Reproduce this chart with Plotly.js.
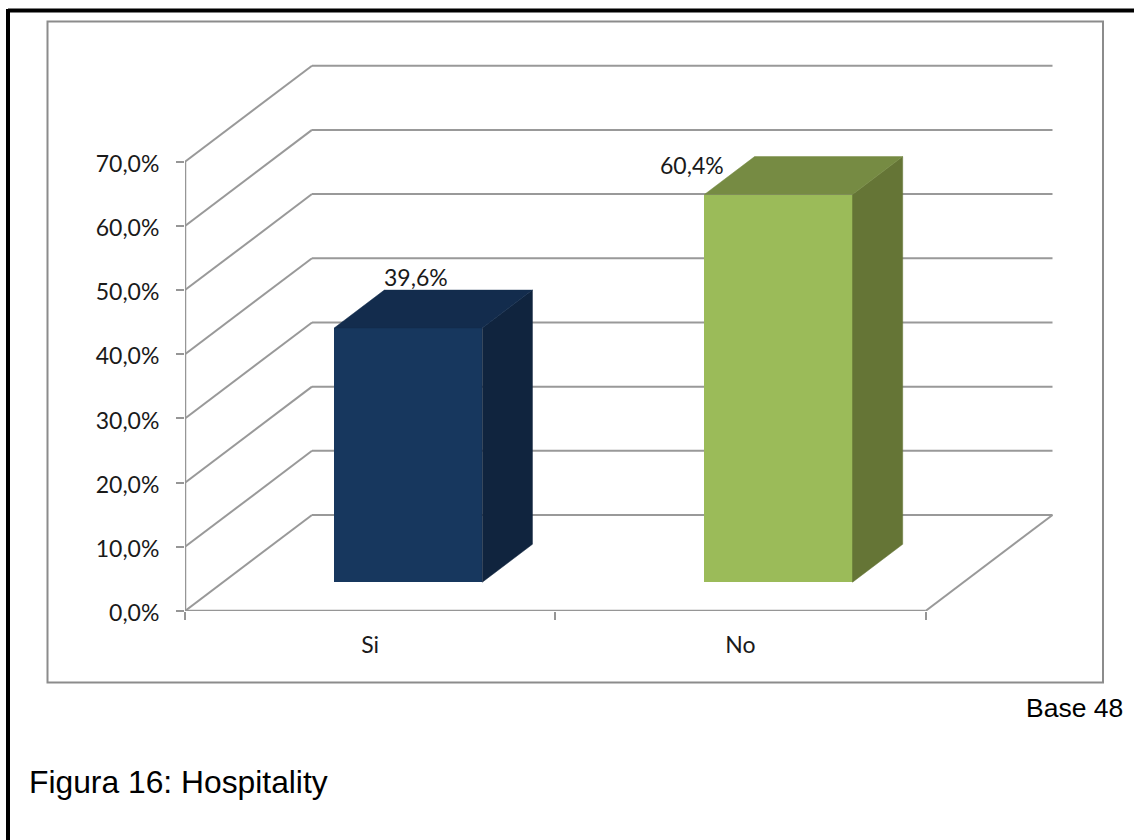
<!DOCTYPE html>
<html>
<head>
<meta charset="utf-8">
<script src="https://cdn.plot.ly/plotly-3.0.1.min.js"></script>
<style>html,body{margin:0;padding:0;background:#fff}</style>
</head>
<body>
<div id="chart" style="width:1134px;height:840px"></div>
<script>
// Survey result
const categories = ['Si', 'No'];
const values = [39.6, 60.4];
const frontColors = ['#17375E', '#9BBB59'];
const topColors = ['#132C4D', '#768B43'];
const sideColors = ['#10243E', '#657536'];
const yTicks = [0, 10, 20, 30, 40, 50, 60, 70];
const yTickLabels = ['0,0%', '10,0%', '20,0%', '30,0%', '40,0%', '50,0%', '60,0%', '70,0%'];
const labelOffsetsX = [8, -86];
const labelOffsetsY = [51, 30];

// Plot box in pixels and the oblique projection of the depth axis
const W = 1134, H = 840;
const plot = {l: 185, r: 1070, t: 50, b: 611};
const xMin = -0.5, xMax = 1.5;
const pxPerCat = (925.5 - 185) / 2;
const pxPerPct = (611 - 161.7) / 70;
const depthX = 127 / pxPerCat;
const depthY = 96 / pxPerPct;
const barWidth = 0.4, depthNear = 0.3, depthFar = 0.695;

const project = (x, y, d) => [x + d * depthX, y + d * depthY];
const GRID = '#999999', AXIS = '#969696';
const FONT = 'Lato, "Open Sans", sans-serif';
const ARIAL = '"Liberation Sans", Arial, sans-serif';

const px = v => (v - plot.l) / (plot.r - plot.l);
const py = v => (plot.b - v) / (plot.b - plot.t);

// Walls and floor are shapes underneath the bars
const shapes = [];
function wallLine(pts, color, width) {
  for (let i = 0; i + 1 < pts.length; i++) {
    shapes.push({type: 'line', layer: 'below', xref: 'x', yref: 'y',
      x0: pts[i][0], y0: pts[i][1], x1: pts[i + 1][0], y1: pts[i + 1][1],
      line: {color: color, width: width}});
  }
}
yTicks.forEach(v => {
  wallLine([project(xMin, v, 0), project(xMin, v, 1), project(xMax, v, 1)], GRID, 2);
});
wallLine([project(xMax, 0, 0), project(xMax, 0, 1)], GRID, 2);

// Chart frame and the page rule on the top and left edges
shapes.push({type: 'rect', xref: 'paper', yref: 'paper', layer: 'below',
  x0: px(47.5), x1: px(1103), y0: py(21.5), y1: py(682.5),
  line: {color: '#8C8C8C', width: 2}, fillcolor: 'rgba(0,0,0,0)'});
shapes.push({type: 'line', xref: 'paper', yref: 'paper', x0: px(8), x1: px(W), y0: py(10.5), y1: py(10.5),
  line: {color: '#000', width: 4}});
shapes.push({type: 'line', xref: 'paper', yref: 'paper', x0: px(8), x1: px(8), y0: py(9), y1: py(H),
  line: {color: '#000', width: 4}});

// Bar faces: the front is a real bar, side and top are projected polygons
const traces = [{
  type: 'bar', x: categories.map((c, i) => i + depthNear * depthX),
  y: values, base: values.map(() => depthNear * depthY), width: barWidth,
  marker: {color: frontColors, line: {width: 0}}, hoverinfo: 'y', showlegend: false
}];
values.forEach((v, i) => {
  const l = i - barWidth / 2, r = i + barWidth / 2;
  const side = [project(r, 0, depthNear), project(r, 0, depthFar),
                project(r, v, depthFar), project(r, v, depthNear)];
  const top = [project(l, v, depthNear), project(l, v, depthFar),
               project(r, v, depthFar), project(r, v, depthNear)];
  [[side, sideColors[i]], [top, topColors[i]]].forEach(([poly, color]) => {
    traces.push({type: 'scatter', mode: 'lines', fill: 'toself', fillcolor: color,
      x: poly.map(p => p[0]).concat(poly[0][0]), y: poly.map(p => p[1]).concat(poly[0][1]),
      line: {color: color, width: 0.5}, hoverinfo: 'skip', showlegend: false, cliponaxis: false});
  });
});

// Front edges of the chart box sit on the plot border, so they are left unclipped
[[[xMin, xMax], [0, 0]], [[xMin, xMin], [0, yTicks[yTicks.length - 1]]]].forEach(([xs, ys]) => {
  traces.push({type: 'scatter', mode: 'lines', x: xs, y: ys, line: {color: AXIS, width: 2.5},
    hoverinfo: 'skip', showlegend: false, cliponaxis: false});
});

// Value labels follow the top of each bar
const annotations = values.map((v, i) => {
  const [ax, ay] = project(i, v, depthNear);
  return {xref: 'x', yref: 'y', x: ax, y: ay, text: v.toFixed(1).replace('.', ',') + '%',
    showarrow: false, xshift: labelOffsetsX[i], yshift: labelOffsetsY[i],
    font: {family: FONT, size: 23, color: '#1a1a1a'}};
});
annotations.push({xref: 'paper', yref: 'paper', x: px(1125), y: py(708), xanchor: 'right', yanchor: 'middle',
  text: 'Base 48', showarrow: false, font: {family: ARIAL, size: 26.5, color: '#000'}});
annotations.push({xref: 'paper', yref: 'paper', x: px(27), y: py(782), xanchor: 'left', yanchor: 'middle',
  text: 'Figura 16: Hospitality', showarrow: false, font: {family: ARIAL, size: 31.8, color: '#000'}});

const layout = {
  width: W, height: H, autosize: false,
  margin: {l: plot.l, r: W - plot.r, t: plot.t, b: H - plot.b, pad: 0},
  paper_bgcolor: '#fff', plot_bgcolor: 'rgba(0,0,0,0)',
  showlegend: false, bargap: 0,
  xaxis: {
    range: [xMin, xMin + (plot.r - plot.l) / pxPerCat],
    tickmode: 'array', tickvals: categories.map((c, i) => i), ticktext: categories,
    ticks: '', showgrid: false, zeroline: false, showline: false,
    tickfont: {family: FONT, size: 23, color: '#1a1a1a'},
    ticklabelstandoff: 18,
    minor: {tick0: xMin, dtick: 1, ticks: 'outside', ticklen: 8, tickwidth: 2, tickcolor: AXIS, showgrid: false}
  },
  yaxis: {
    range: [0, (plot.b - plot.t) / pxPerPct],
    tickmode: 'array', tickvals: yTicks, ticktext: yTickLabels,
    ticks: 'outside', ticklen: 8, tickwidth: 2, tickcolor: AXIS,
    ticklabelstandoff: 12, ticklabelshift: 2,
    showgrid: false, zeroline: false, showline: false,
    tickfont: {family: FONT, size: 23, color: '#1a1a1a'}
  },
  shapes: shapes,
  annotations: annotations
};

Plotly.newPlot('chart', traces, layout, {displayModeBar: false, staticPlot: true});
</script>
</body>
</html>
